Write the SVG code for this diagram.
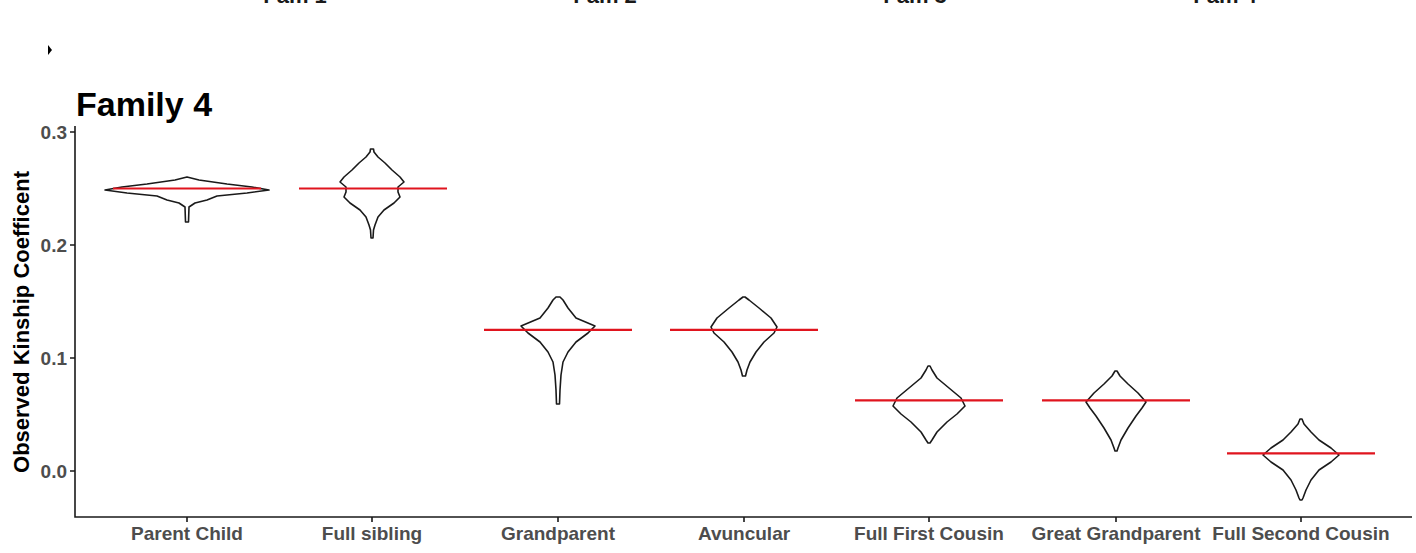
<svg xmlns="http://www.w3.org/2000/svg" width="1416" height="553" viewBox="0 0 1416 553">
<style>
.v{fill:#fff;stroke:#1a1a1a;stroke-width:1.6;stroke-linejoin:round}
.r{stroke:#e0141e;stroke-width:2.2}
.ax{stroke:#1a1a1a;stroke-width:1.6;fill:none}
.tl{font-family:"Liberation Sans",Arial,sans-serif;font-weight:bold;font-size:19px;fill:#4d4d4d}
.ft{font-family:"Liberation Sans",Arial,sans-serif;font-weight:bold;font-size:22px;fill:#1a1a1a}
</style>
<rect width="1416" height="553" fill="#fff"/>
<g id="top-labels">
<text class="ft" x="295" y="3" text-anchor="middle">Fam 1</text>
<text class="ft" x="605" y="3" text-anchor="middle">Fam 2</text>
<text class="ft" x="915" y="3" text-anchor="middle">Fam 3</text>
<text class="ft" x="1225" y="3" text-anchor="middle">Fam 4</text>
<path d="M48,45 L52,50 L48,55 Z" fill="#000"/>
</g>
<text id="title" x="76" y="116" font-family="Liberation Sans,Arial,sans-serif" font-weight="bold" font-size="34">Family 4</text>
<g id="axes">
<path class="ax" d="M75,126 V517 H1412"/>
<path class="ax" d="M70,132 H75 M70,245 H75 M70,358 H75 M70,471 H75"/>
<path class="ax" d="M187,517 v5 M372,517 v5 M558,517 v5 M744,517 v5 M929,517 v5 M1116,517 v5 M1301,517 v5"/>
<g class="tl" text-anchor="end">
<text x="67" y="139">0.3</text><text x="67" y="252">0.2</text><text x="67" y="365">0.1</text><text x="67" y="478">0.0</text>
</g>
<g class="tl" text-anchor="middle">
<text x="187" y="540">Parent Child</text><text x="372" y="540">Full sibling</text><text x="558" y="540">Grandparent</text><text x="744" y="540">Avuncular</text><text x="929" y="540">Full First Cousin</text><text x="1116" y="540">Great Grandparent</text><text x="1301" y="540">Full Second Cousin</text>
</g>
<text transform="translate(29,322) rotate(-90)" text-anchor="middle" font-family="Liberation Sans,Arial,sans-serif" font-weight="bold" font-size="22">Observed Kinship Coefficent</text>
</g>
<g id="violins">
<polygon class="v" points="187,177 199,180 227,184 252,187 269,190 247,193 217,196 207,200 195,203 189,207 188.5,222 185.5,222 185,207 179,203 167,200 157,196 127,193 105,190 122,187 147,184 175,180"/>
<polygon class="v" points="373.5,149 374,152 378,157 385,163 392,170 400,177 404,182 398,187 398,192 400,197 394,203 384,210 378,217 375,225 373.5,230 373,238 371,238 370.5,230 369,225 366,217 360,210 350,203 344,197 346,192 346,187 340,182 344,177 352,170 359,163 366,157 370,152 370.5,149"/>
<polygon class="v" points="560,297 563,300 568,308 576,318 595,326 588,333 576,342 568,352 563,362 561,375 560,390 559.5,404 556.5,404 556,390 555,375 553,362 548,352 540,342 528,333 521,326 540,318 548,308 553,300 556,297"/>
<polygon class="v" points="745,297 749,300 759,308 771,318 777,327 774,333 764,342 756,352 750,362 747,370 745.5,376 742.5,376 741,370 738,362 732,352 724,342 714,333 711,327 717,318 729,308 739,300 743,297"/>
<polygon class="v" points="930,366 932,370 937,378 949,388 961,398 965,406 957,414 947,422 937,432 932,440 930,443 928,443 926,440 921,432 911,422 901,414 893,406 897,398 909,388 921,378 926,370 928,366"/>
<polygon class="v" points="1117,371 1120,376 1128,384 1138,393 1146,402 1142,408 1136,416 1128,428 1121,440 1118,448 1117,451 1115,451 1114,448 1111,440 1104,428 1096,416 1090,408 1086,402 1094,393 1104,384 1112,376 1115,371"/>
<polygon class="v" points="1302,419 1304,424 1311,432 1319,440 1331,448 1339,455 1331,462 1319,470 1311,480 1306,490 1303,498 1302,500 1300,500 1299,498 1296,490 1291,480 1283,470 1271,462 1263,455 1271,448 1283,440 1291,432 1298,424 1300,419"/>
</g>
<g id="expected">
<path class="r" d="M113,188.5H261 M299,188.5H447 M484,329.8H632 M670,329.8H818 M855,400.4H1003 M1042,400.4H1190 M1227,453.4H1375"/>
</g>
</svg>
